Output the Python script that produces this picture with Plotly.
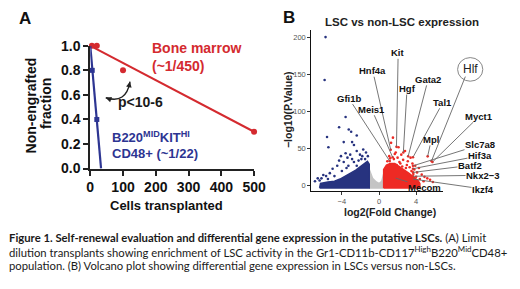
import plotly.graph_objects as go

# ---------------- Panel A data (limit dilution) ----------------
bm_cells = [5, 20, 100, 500]
bm_frac = [1.0, 1.0, 0.8, 0.3]
bm_fit_cells = [0, 500]
bm_fit_frac = [1.0, 0.3]
lsc_cells = [6, 20]
lsc_frac = [0.8, 0.4]
lsc_fit_cells = [0, 33]
lsc_fit_frac = [1.0, 0.0]
a_xticks = [0, 100, 200, 300, 400, 500]
a_yticks = [0.0, 0.2, 0.4, 0.6, 0.8, 1.0]

# ---------------- Panel B data (volcano) ----------------
# dense cloud outlines (log2FC, -log10 p)
blue_dense_x = [-6.4, -6.3, -5.5, -4.8, -4.2, -3.6, -3.0, -2.5, -2.0, -1.6, -1.25, -1.05, -1.05, -6.4]
blue_dense_y = [-3, 3, 5, 6, 9, 13, 17, 21, 26, 30, 33, 29, -3, -3]
gray_dense_x = [-1.05, -1.05, -0.7, -0.3, 0.0, 0.3, 0.5, 0.5, -1.05]
gray_dense_y = [-3, 22, 10, 5, 3, 6, 16, -3, -3]
red_dense_x = [0.5, 0.5, 0.8, 1.2, 1.7, 2.2, 2.7, 3.2, 3.7, 4.2, 4.4, 4.4, 0.5]
red_dense_y = [-3, 22, 28, 30, 30, 26, 22, 17, 12, 7, 3, -3, -3]
# sparse points
blue_x = [-5.76, -5.86, -5.6, -5.45, -3.6, -4.3, -3.26, -3.0, -2.4, -3.8, -2.9, -2.7,
          -4.1, -3.4, -3.1, -2.4, -2.05, -1.7, -1.5, -1.2, -3.8, -4.5, -5.0, -6.0,
          -6.6, -6.2, -5.7, -6.9, -3.3, -2.7, -2.2, -1.9, -2.4, -4.3, -3.6, -1.4,
          -1.8, -2.9, -5.3, -4.8, -4.0, -3.5, -6.4, -5.5]
blue_y = [201, 143, 66, 52, 93, 79, 76, 73, 68, 59, 59, 55,
          40, 38, 42, 47, 42, 49, 36, 40, 32, 27, 23, 14.5,
          10, 10, 13, 6, 27, 32, 34, 36, 27, 34, 44, 45,
          40, 36, 17, 13, 20, 24, 7, 9]
red_x = [0.9, 1.1, 1.3, 1.5, 1.6, 1.8, 2.0, 2.1, 2.3, 2.4, 2.6, 2.8, 3.0, 3.1,
         3.3, 3.4, 3.6, 3.8, 3.9, 4.1, 4.3, 4.6, 4.9, 5.2, 5.5, 2.2, 1.4, 2.9,
         3.5, 1.9, 2.7, 3.2, 4.0, 4.4, 1.7, 2.5, 3.7, 4.8, 5.8, 1.2]
red_y = [33, 40, 58, 65, 36, 45, 38, 52, 30, 42, 35, 47, 28, 33,
         25, 38, 30, 22, 27, 18, 24, 15, 12, 10, 8, 32, 28, 24,
         20, 28, 18, 14, 12, 9, 43, 26, 16, 6, 5, 37]
genes = ["Kit", "Hnf4a", "Hgf", "Gata2", "Tal1", "Myct1", "Gfi1b", "Meis1",
         "Mpl", "Slc7a8", "Hif3a", "Batf2", "Nkx2\u22123", "Ikzf4", "Mecom"]
gene_fc = [1.88, 1.26, 2.62, 3.14, 3.66, 5.76, 1.15, 1.47,
           5.24, 3.66, 3.66, 3.66, 3.66, 3.66, 1.78]
gene_p = [52.6, 48.7, 44.9, 39.7, 38.5, 32.0, 33.3, 38.5,
          39.7, 26.9, 23.0, 18.0, 12.8, 9.0, 10.3]
hlf_fc, hlf_p = 5.65, 33.3
b_xticks = [-4, 0, 4]
b_xticktext = ["\u22124", "0", "4"]
b_yticks = [0, 50, 100, 150, 200]

# ---------------- layout helpers (pixels -> paper) ----------------
W, H = 520, 289
def px(x):
    return x / W
def py(y):
    return 1 - y / H

# label offsets in pixels relative to each gene point (layout only)
gene_ax = [1.7, -18, 3.7, 20, 30, 47, -41, -21, 3.7, 67, 67, 57, 70, 70, 29]
gene_ay = [-94, -79, -64, -77, -55, -46, -63, -48, -17, -21, -13, -7, -1, 10, 9]

ARIAL = "Liberation Sans"
RED = "#d42a2f"
BLUE = "#2d3592"
NAVY = "#27337f"
VRED = "#ee2a24"
GRAY = "#c4c4c4"

fig = go.Figure()

# Panel A
fig.add_trace(go.Scatter(x=bm_fit_cells, y=bm_fit_frac, mode="lines",
                         line=dict(color=RED, width=2), xaxis="x", yaxis="y",
                         cliponaxis=False, hoverinfo="skip"))
fig.add_trace(go.Scatter(x=bm_cells, y=bm_frac, mode="markers",
                         marker=dict(color=RED, size=6), xaxis="x", yaxis="y",
                         cliponaxis=False))
fig.add_trace(go.Scatter(x=lsc_fit_cells, y=lsc_fit_frac, mode="lines",
                         line=dict(color=BLUE, width=2.2), xaxis="x", yaxis="y",
                         cliponaxis=False, hoverinfo="skip"))
fig.add_trace(go.Scatter(x=lsc_cells, y=lsc_frac, mode="markers",
                         marker=dict(color=BLUE, size=5, symbol="square"),
                         xaxis="x", yaxis="y", cliponaxis=False))

# Panel B
for xs, ys, col in [(gray_dense_x, gray_dense_y, GRAY),
                    (blue_dense_x, blue_dense_y, NAVY),
                    (red_dense_x, red_dense_y, VRED)]:
    fig.add_trace(go.Scatter(x=xs, y=ys, mode="lines", fill="toself",
                             fillcolor=col, line=dict(color=col, width=1.5),
                             xaxis="x2", yaxis="y2", hoverinfo="skip"))
fig.add_trace(go.Scatter(x=blue_x, y=blue_y, mode="markers",
                         marker=dict(color=NAVY, size=2.6), xaxis="x2", yaxis="y2"))
fig.add_trace(go.Scatter(x=red_x, y=red_y, mode="markers",
                         marker=dict(color=VRED, size=2.6), xaxis="x2", yaxis="y2"))
fig.add_trace(go.Scatter(x=gene_fc + [hlf_fc], y=gene_p + [hlf_p], mode="markers",
                         marker=dict(color=VRED, size=2.6), xaxis="x2", yaxis="y2"))

ann = []
def txt(x, y, s, size, color="#111", bold=True, xanchor="center", angle=0, family=ARIAL):
    ann.append(dict(x=px(x), y=py(y), xref="paper", yref="paper", text=s,
                    showarrow=False, xanchor=xanchor, yanchor="middle",
                    textangle=angle,
                    font=dict(family=family, size=size, color=color,
                              weight="bold" if bold else "normal")))

# Panel A text
txt(22, 11, "A", 17)
txt(28, 103, "Non-engrafted", 14, angle=-90)
txt(44, 101, "fraction", 14, angle=-90)
txt(168, 209, "Cells transplanted", 13)
txt(151, 42, "Bone marrow", 14, color=RED, xanchor="left")
txt(151, 61, "(~1/450)", 14, color=RED, xanchor="left")
txt(141, 99, "p<10-6", 14, color="#1a1a1a")
txt(109, 137, "B220<sup>MID</sup>KIT<sup>HI</sup>", 13, color=BLUE, xanchor="left")
txt(109, 154, "CD48+ (~1/22)", 13, color=BLUE, xanchor="left")

# curved double arrow heads
for hx, hy, axp, ayp in [(47.3, 0.577, 7, 2.5), (121.3, 0.708, -1.5, 7)]:
    ann.append(dict(x=hx, y=hy, xref="x", yref="y", ax=axp, ay=ayp, text="",
                    showarrow=True, arrowhead=2, arrowsize=0.8, arrowwidth=1.4,
                    arrowcolor="#222"))

# Panel B text
txt(294, 10, "B", 17)
txt(411, 15, "LSC vs non-LSC expression", 11.5, color="#222")
txt(293, 107, "\u2212log10(P.Value)", 10.5, color="#222", angle=-90)
txt(398, 216, "log2(Fold Change)", 10.5, color="#222")
for g, gx, gy, axp, ayp in zip(genes, gene_fc, gene_p, gene_ax, gene_ay):
    ann.append(dict(x=gx, y=gy, xref="x2", yref="y2", ax=axp, ay=ayp, text=g,
                    showarrow=True, arrowhead=0, arrowwidth=0.9, arrowcolor="#666",
                    standoff=0, borderpad=0,
                    font=dict(family=ARIAL, size=9.5, color="#111", weight="bold")))
# Hlf circled label
ann.append(dict(x=hlf_fc, y=hlf_p, xref="x2", yref="y2", ax=34.5, ay=-86, text="",
                showarrow=True, arrowhead=0, arrowwidth=0.9, arrowcolor="#666"))
txt(481, 65, "Hlf", 12, color="#222", bold=False)

# Caption
CAP = "Lato"
txt(3, 243, "<b>Figure 1. Self-renewal evaluation and differential gene expression in the putative LSCs.</b> (A) Limit",
    11.3, color="#1a1a1a", bold=False, xanchor="left", family=CAP)
txt(3, 258, "dilution transplants showing enrichment of LSC activity in the Gr1-CD11b-CD117<sup>High</sup>B220<sup>Mid</sup>CD48+",
    11.3, color="#1a1a1a", bold=False, xanchor="left", family=CAP)
txt(3, 273, "population. (B) Volcano plot showing differential gene expression in LSCs versus non-LSCs.",
    11.3, color="#1a1a1a", bold=False, xanchor="left", family=CAP)

shapes = [
    dict(type="path", xref="x", yref="y",
         path="M 47.3,0.577 Q 109.5,0.523 121.3,0.708",
         line=dict(color="#222", width=1.4)),
    dict(type="circle", xref="paper", yref="paper",
         x0=px(468), x1=px(494), y0=py(77.5), y1=py(52.5),
         line=dict(color="#888", width=1)),
]

axA = dict(showgrid=False, zeroline=False, ticks="outside", ticklen=5, tickwidth=2,
           tickcolor="#222", linecolor="#222", linewidth=2, showline=True,
           tickfont=dict(family=ARIAL, size=14, color="#111", weight="bold"))
axB = dict(showgrid=False, zeroline=False, ticks="outside", ticklen=3, tickwidth=1,
           tickcolor="#333", linecolor="#111", linewidth=1, showline=True,
           tickfont=dict(family=ARIAL, size=7.5, color="#555"))

fig.update_layout(
    width=W, height=H, margin=dict(l=0, r=0, t=0, b=0),
    paper_bgcolor="white", plot_bgcolor="white", showlegend=False,
    xaxis=dict(axA, domain=[px(89), px(258)], range=[0, 500], tickvals=a_xticks,
               anchor="y"),
    yaxis=dict(axA, domain=[py(170), py(40)], range=[0, 1.0], tickvals=a_yticks,
               tickformat=".1f", anchor="x"),
    xaxis2=dict(axB, domain=[px(317), px(453)], range=[-7.3, 6.9], tickvals=b_xticks,
                ticktext=b_xticktext, anchor="y2"),
    yaxis2=dict(axB, domain=[py(194), py(23)], range=[-7.5, 211], tickvals=b_yticks,
                anchor="x2"),
    annotations=ann, shapes=shapes,
)

fig.write_html("out.html", config={"displayModeBar": False},
               post_script="document.body.style.margin='0px';document.body.style.overflow='hidden';")
